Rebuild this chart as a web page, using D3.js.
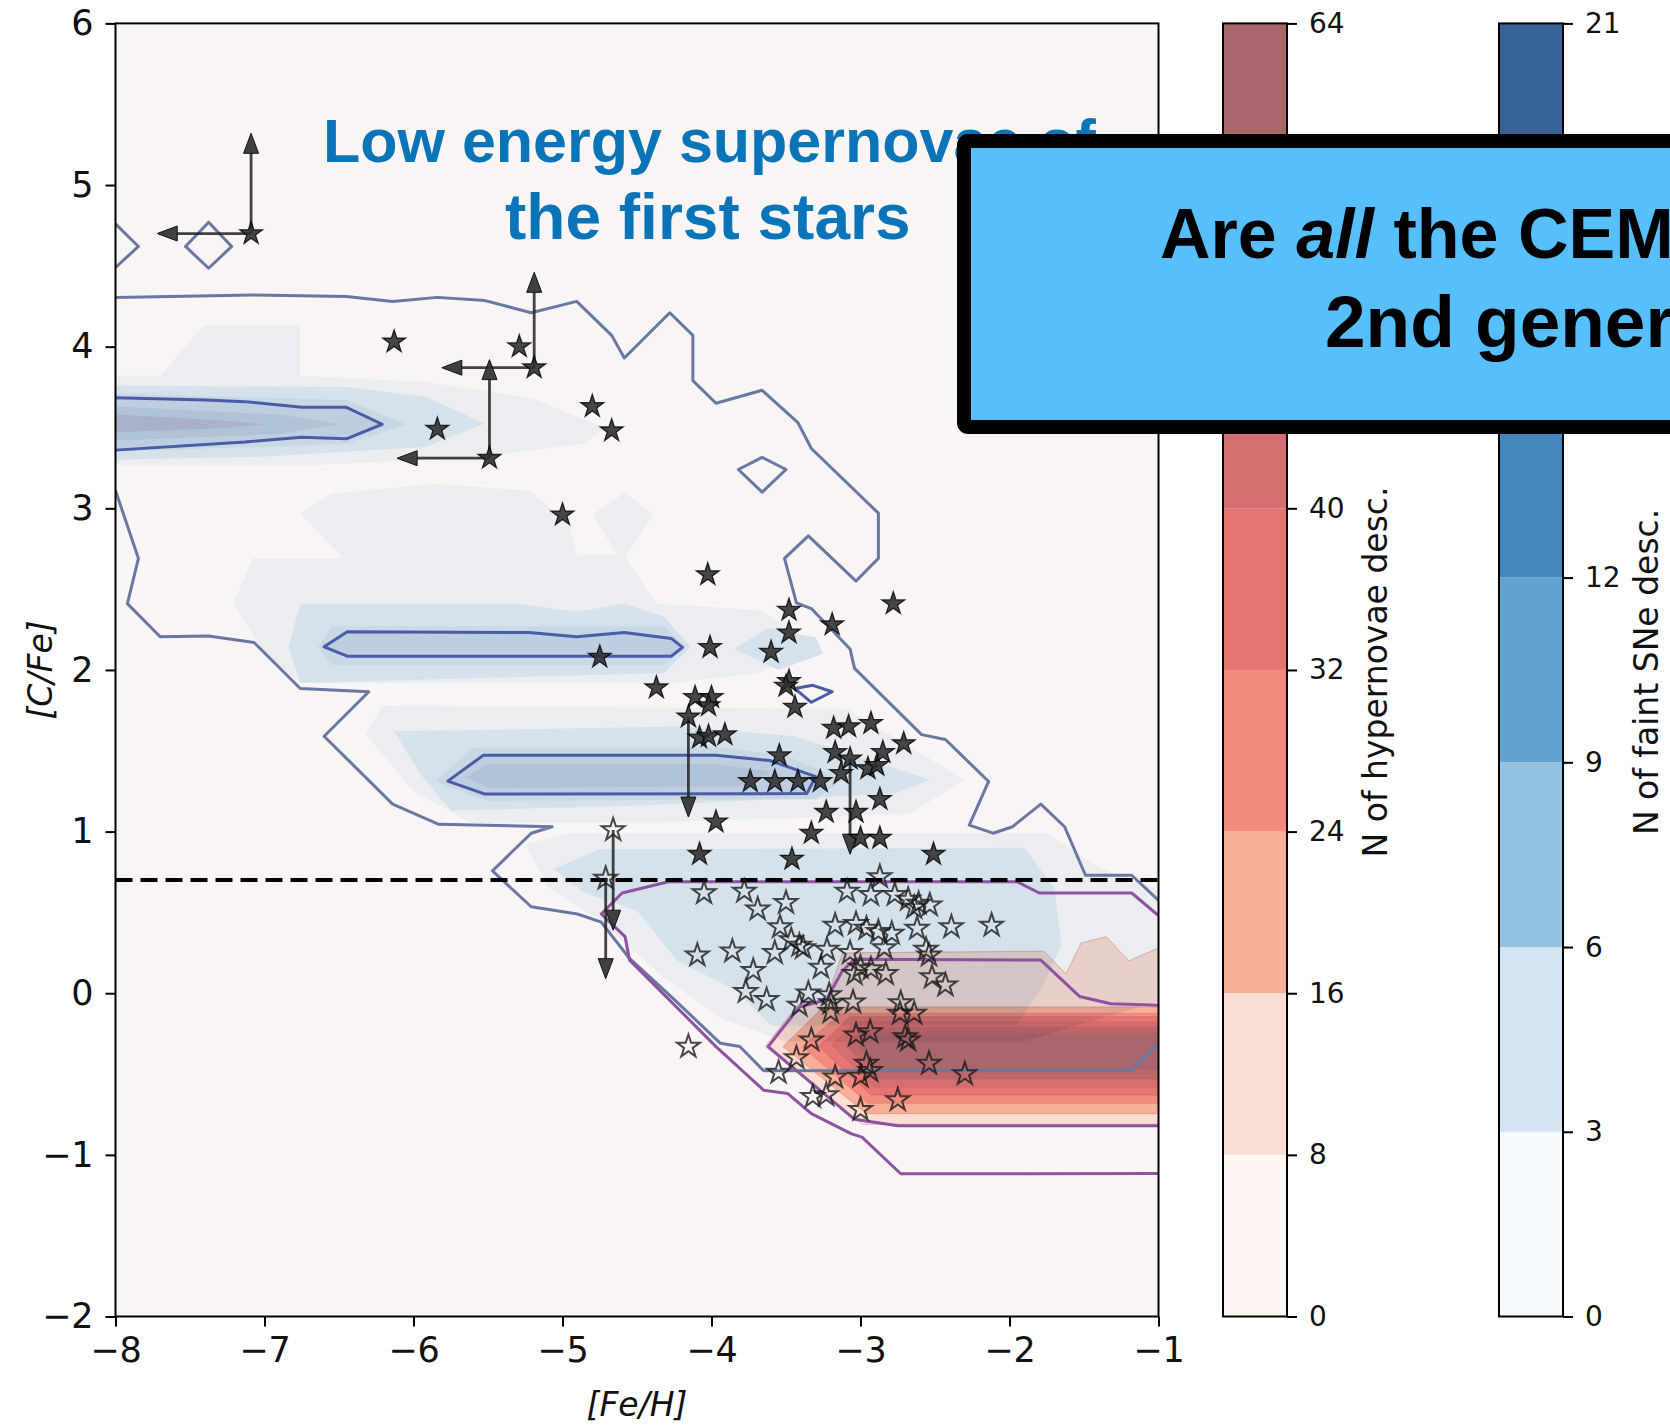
<!DOCTYPE html>
<html>
<head>
<meta charset="utf-8">
<script src="https://cdn.jsdelivr.net/npm/d3@7"></script>
<style>
  html, body { margin: 0; padding: 0; background: #fff; }
  svg { display: block; }
</style>
</head>
<body>
<svg id="chart" width="1670" height="1426"></svg>
<script>
// ---------------------------------------------------------------------------
// Axes and reference values
// ---------------------------------------------------------------------------
const feRange = [-8, -1];
const cRange = [-2, 6];
const xTickValues = [-8, -7, -6, -5, -4, -3, -2, -1];
const yTickValues = [-2, -1, 0, 1, 2, 3, 4, 5, 6];
const cempThreshold = 0.7;

// colour bar of hypernova descendants
const hyperLevels = [0, 8, 16, 24, 32, 40, 48, 56, 64];
const hyperColors = ["#fef6f2", "#fbdfd4", "#f9ae99", "#f48b80", "#e47571", "#d46f71", "#bd676c", "#a9666c"];
// colour bar of faint-SN descendants
const faintLevels = [0, 3, 6, 9, 12, 15, 18, 21];
const faintColors = ["#f6f9fe", "#d3e4f3", "#93c3e0", "#63a3d0", "#4686be", "#3b74ad", "#396395"];
// colour-bar levels whose labels sit under the question box
const hiddenHyperLabels = [48, 56];
const hiddenFaintLabels = [15, 18];

// shades of the faint-SN map in the panel, outer halo first
const faintShades = ["#ecedf1", "#d6e2eb", "#c8d8e5", "#bccee0", "#b0c2d8", "#a8b2cb"];

// faint-SN density map: [shade index, polygon in ([Fe/H], [C/Fe])]
const faintBands = [
  [0, [[-8,3.82],[-7.70,3.82],[-7.41,4.13],[-6.76,4.13],[-6.76,3.82],[-5.9,3.78],[-5.2,3.68],[-4.72,3.50],[-4.85,3.40],[-5.65,3.31],[-6.63,3.27],[-8,3.27]]],
  [0, [[-7.21,2.41],[-7.08,2.69],[-6.47,2.69],[-6.76,2.97],[-6.55,3.09],[-5.86,3.15],[-5.22,3.11],[-4.96,2.91],[-4.90,2.71],[-4.63,2.71],[-4.80,2.96],[-4.58,3.10],[-4.39,2.96],[-4.58,2.70],[-4.37,2.41],[-3.67,2.37],[-3.29,2.14],[-3.70,1.98],[-4.25,1.92],[-6.76,1.92],[-7.0,2.1]]],
  [0, [[-6.32,1.6],[-6.21,1.78],[-3.09,1.76],[-2.30,1.32],[-2.67,1.11],[-4.23,1.06],[-5.6,1.05],[-6.0,1.25]]],
  [0, [[-5.25,0.92],[-4.95,0.99],[-1.75,0.99],[-1.4,0.78],[-1.0,0.64],[-1.0,-0.05],[-1.55,-0.2],[-1.9,-0.3],[-3.5,-0.3],[-3.95,-0.15],[-4.35,0.12],[-4.75,0.45],[-5.1,0.66]]],
  [1, [[-8,3.76],[-6.45,3.75],[-5.92,3.69],[-5.52,3.525],[-5.92,3.38],[-6.98,3.32],[-8,3.30]]],
  [1, [[-6.84,2.14],[-6.76,2.41],[-5.30,2.41],[-4.905,2.36],[-4.585,2.41],[-4.32,2.33],[-4.14,2.14],[-4.32,1.98],[-6.76,1.92]]],
  [1, [[-3.85,2.13],[-3.62,2.26],[-3.3,2.2],[-3.25,2.1],[-3.55,2.0]]],
  [1, [[-6.13,1.62],[-4.23,1.65],[-3.44,1.59],[-2.53,1.32],[-2.77,1.235],[-4.5,1.16],[-5.75,1.13],[-5.95,1.35]]],
  [1, [[-5.06,0.77],[-4.75,0.89],[-1.9,0.90],[-1.7,0.65],[-1.65,0.3],[-1.77,0.06],[-1.95,-0.2],[-3.6,-0.2],[-3.84,0.02],[-4.23,0.2],[-4.5,0.51],[-4.85,0.62]]],
  [2, [[-8,3.71],[-6.45,3.67],[-6.05,3.52],[-6.45,3.40],[-8,3.35]]],
  [2, [[-6.64,2.14],[-6.55,2.27],[-4.32,2.27],[-4.17,2.14],[-4.32,2.03],[-6.55,2.03]]],
  [2, [[-5.85,1.31],[-5.6,1.52],[-3.95,1.52],[-3.5,1.47],[-3.12,1.32],[-3.3,1.20],[-5.5,1.19]]],
  [3, [[-8,3.684],[-7.39,3.67],[-7.13,3.66],[-6.75,3.625],[-6.45,3.625],[-6.21,3.52],[-6.45,3.43],[-6.75,3.44],[-7.13,3.41],[-8,3.36]]],
  [3, [[-6.60,2.143],[-6.445,2.236],[-5.225,2.232],[-4.905,2.205],[-4.585,2.232],[-4.27,2.195],[-4.195,2.14],[-4.27,2.085],[-6.445,2.085]]],
  [3, [[-5.77,1.312],[-5.53,1.473],[-3.97,1.473],[-3.61,1.44],[-3.30,1.34],[-3.36,1.235],[-5.52,1.232]]],
  [4, [[-8,3.63],[-6.9,3.58],[-6.5,3.52],[-6.9,3.46],[-8,3.42]]],
  [4, [[-5.5,1.42],[-4.0,1.42],[-3.6,1.37],[-3.75,1.28],[-5.5,1.27],[-5.65,1.34]]],
  [5, [[-8,3.58],[-7.3,3.545],[-7.0,3.52],[-7.3,3.495],[-8,3.47]]]
];

// hypernova density map: [colour index in hyperColors, polygon]
const hyperBands = [
  [1, [[-3.64,-0.33],[-3.42,-0.07],[-3.23,-0.04],[-3.12,0.25],[-1.77,0.26],[-1.62,0.12],[-1.52,0.31],[-1.35,0.35],[-1.2,0.2],[-1.0,0.28],[-1.0,-0.81],[-2.99,-0.81]]],
  [2, [[-3.52,-0.33],[-3.25,-0.085],[-1.0,-0.085],[-1.0,-0.745],[-2.96,-0.745]]],
  [3, [[-3.39,-0.33],[-3.13,-0.125],[-1.0,-0.125],[-1.0,-0.68],[-2.95,-0.68]]],
  [4, [[-3.28,-0.33],[-3.07,-0.145],[-1.0,-0.145],[-1.0,-0.63],[-2.93,-0.63]]],
  [5, [[-3.19,-0.32],[-3.03,-0.18],[-1.0,-0.18],[-1.0,-0.58],[-2.91,-0.58]]],
  [6, [[-3.09,-0.32],[-2.99,-0.21],[-1.0,-0.21],[-1.0,-0.53],[-2.90,-0.53]]],
  [7, [[-3.01,-0.33],[-2.96,-0.25],[-1.0,-0.25],[-1.0,-0.47],[-2.90,-0.47]]]
];

// iso-lines of the faint-SN map (outer level, open at the frame)
const faintOuterLines = [
  [[-8,4.305],[-7.08,4.32],[-6.45,4.31],[-6.14,4.28],[-5.84,4.305],[-5.52,4.285],[-5.21,4.21],[-4.905,4.28],[-4.67,4.07],[-4.585,3.93],[-4.28,4.21],[-4.125,4.07],[-4.125,3.79],[-3.97,3.65],[-3.66,3.73],[-3.42,3.53],[-3.33,3.37],[-2.88,2.97],[-2.88,2.69],[-3.03,2.55],[-3.35,2.83],[-3.51,2.69],[-3.43,2.415],[-3.33,2.38],[-3.07,2.13],[-3.04,2.01],[-2.59,1.60],[-2.43,1.57],[-2.14,1.31],[-2.27,1.04],[-2.11,0.99],[-1.98,1.03],[-1.79,1.17],[-1.63,1.03],[-1.49,0.73],[-1.18,0.73],[-1.0,0.575]],
  [[-1.0,-0.31],[-1.18,-0.477],[-3.65,-0.48],[-3.81,-0.33],[-3.94,-0.31],[-4.26,-0.03],[-4.55,0.215],[-4.74,0.44],[-4.90,0.49],[-5.21,0.535],[-5.47,0.757],[-5.21,0.99],[-5.07,1.03],[-5.83,1.045],[-6.14,1.17],[-6.60,1.59],[-6.30,1.865],[-6.76,1.885],[-7.07,2.17],[-7.375,2.21],[-7.70,2.205],[-7.92,2.41],[-7.846,2.69],[-8,3.11]],
  [[-8,4.76],[-7.846,4.62],[-8,4.49]]
];
const faintOuterLoops = [
  [[-7.375,4.77],[-7.22,4.62],[-7.375,4.485],[-7.53,4.62]],
  [[-3.66,3.315],[-3.50,3.24],[-3.66,3.10],[-3.82,3.24]]
];
// iso-lines of the faint-SN map (inner level)
const faintInnerLines = [
  [[-8,3.684],[-7.39,3.67],[-7.13,3.66],[-6.75,3.625],[-6.45,3.625],[-6.21,3.52],[-6.45,3.43],[-6.75,3.44],[-7.13,3.41],[-8,3.36]]
];
const faintInnerLoops = [
  [[-6.60,2.143],[-6.445,2.236],[-5.225,2.232],[-4.905,2.205],[-4.585,2.232],[-4.27,2.195],[-4.195,2.14],[-4.27,2.085],[-6.445,2.085]],
  [[-5.77,1.312],[-5.53,1.473],[-3.97,1.473],[-3.61,1.44],[-3.30,1.34],[-3.36,1.235],[-5.52,1.232]],
  [[-3.44,1.885],[-3.32,1.905],[-3.19,1.865],[-3.33,1.80]]
];
// iso-lines of the hypernova map
const hyperLines = [
  [[-1.0,-1.115],[-2.73,-1.117],[-2.99,-0.89],[-3.06,-0.87],[-3.33,-0.745],[-3.49,-0.62],[-3.65,-0.60],[-3.97,-0.33],[-4.55,0.205],[-4.58,0.35],[-4.74,0.49],[-4.60,0.62],[-4.29,0.69],[-1.95,0.69],[-1.80,0.62],[-1.18,0.62],[-1.0,0.48]],
  [[-1.0,-0.075],[-1.32,-0.065],[-1.53,-0.02],[-1.79,0.205],[-3.04,0.21],[-3.12,0.14],[-3.23,-0.04],[-3.41,-0.085],[-3.62,-0.33],[-3.04,-0.78],[-2.75,-0.82],[-1.0,-0.82]]
];

// observed stars ([Fe/H], [C/Fe]): CEMP stars (filled) and C-normal stars (open)
const cempStars = [
  [-7.09,4.70],[-6.13,4.03],[-5.29,4.00],[-5.19,3.87],[-5.84,3.49],[-5.49,3.31],[-4.80,3.63],[-4.67,3.48],[-5.00,2.96],[-4.025,2.59],
  [-2.78,2.41],[-3.48,2.37],[-3.19,2.28],[-3.48,2.23],[-3.60,2.11],[-4.01,2.14],[-4.75,2.08],
  [-4.37,1.89],[-3.48,1.93],[-3.50,1.90],[-3.44,1.77],[-4.11,1.83],[-4.00,1.83],[-4.02,1.78],[-4.155,1.71],
  [-4.08,1.58],[-4.02,1.59],[-3.91,1.60],[-3.545,1.47],[-3.74,1.31],[-3.575,1.31],[-3.42,1.31],[-3.27,1.31],
  [-3.13,1.36],[-3.17,1.49],[-3.18,1.64],[-3.08,1.65],[-2.93,1.67],[-3.07,1.45],[-2.95,1.39],[-2.89,1.41],[-2.85,1.49],[-2.71,1.545],
  [-2.87,1.20],[-3.23,1.12],[-3.03,1.12],[-3.33,0.99],[-3.00,0.96],[-2.87,0.96],[-3.97,1.06],[-4.08,0.86],[-3.46,0.83],[-2.51,0.86]
];
const normalStars = [
  [-4.66,1.01],[-4.71,0.71],
  [-4.05,0.62],[-3.78,0.63],[-3.69,0.52],[-3.50,0.56],[-3.09,0.63],[-2.93,0.61],[-2.87,0.72],
  [-2.77,0.61],[-2.68,0.58],[-2.61,0.555],[-2.535,0.545],[-2.64,0.53],
  [-3.54,0.41],[-3.465,0.33],[-3.41,0.295],[-3.385,0.28],
  [-3.17,0.42],[-3.03,0.43],[-2.96,0.40],[-2.88,0.38],[-2.79,0.37],[-2.62,0.40],[-2.39,0.41],[-2.12,0.42],
  [-4.095,0.235],[-3.86,0.26],[-3.575,0.25],[-3.225,0.27],[-3.07,0.25],[-2.84,0.28],[-2.56,0.27],[-2.54,0.235],
  [-3.72,0.14],[-3.265,0.16],[-3.04,0.12],[-3.0,0.16],[-2.93,0.15],[-2.83,0.12],[-2.52,0.10],[-2.43,0.05],
  [-3.77,0.01],[-3.63,-0.04],[-3.41,-0.075],[-3.35,0.0],[-3.21,-0.01],[-3.20,-0.06],[-3.05,-0.055],[-2.73,-0.06],
  [-3.20,-0.115],[-2.735,-0.125],[-2.64,-0.125],
  [-4.155,-0.33],[-3.33,-0.29],[-3.03,-0.26],[-2.935,-0.24],[-2.70,-0.27],[-2.68,-0.29],
  [-3.43,-0.40],[-2.96,-0.435],[-2.935,-0.48],[-3.0,-0.515],[-2.54,-0.435],[-3.55,-0.49],[-3.17,-0.52],[-2.30,-0.50],
  [-3.32,-0.64],[-3.23,-0.63],[-2.75,-0.66],[-3.0,-0.72]
];

// limits: [start, end] of each arrow in data units
const limitArrows = [
  [[-7.09,4.70],[-7.09,5.32]], [[-7.09,4.70],[-7.72,4.70]],
  [[-5.19,3.87],[-5.19,4.46]], [[-5.19,3.87],[-5.81,3.87]],
  [[-5.49,3.31],[-5.49,3.92]], [[-5.49,3.31],[-6.11,3.31]],
  [[-4.155,1.71],[-4.155,1.09]],
  [[-3.07,1.45],[-3.07,0.86]],
  [[-4.66,1.01],[-4.66,0.39]],
  [[-4.71,0.71],[-4.71,0.09]]
];

// ---------------------------------------------------------------------------
// Drawing
// ---------------------------------------------------------------------------
const svg = d3.select("#chart");
const plot = { left: 115.5, right: 1158.5, top: 23.4, bottom: 1316.5 };
const x = d3.scaleLinear().domain(feRange).range([plot.left, plot.right]);
const y = d3.scaleLinear().domain(cRange).range([plot.bottom, plot.top]);

const openLine = d3.line().x(d => x(d[0])).y(d => y(d[1]));
const closedLine = d3.line().x(d => x(d[0])).y(d => y(d[1])).curve(d3.curveLinearClosed);

svg.append("defs").append("clipPath").attr("id", "plotClip")
  .append("rect")
  .attr("x", plot.left).attr("y", plot.top)
  .attr("width", plot.right - plot.left).attr("height", plot.bottom - plot.top);

// panel background
svg.append("rect")
  .attr("x", plot.left).attr("y", plot.top)
  .attr("width", plot.right - plot.left).attr("height", plot.bottom - plot.top)
  .attr("fill", "#faf5f5");

const panel = svg.append("g").attr("clip-path", "url(#plotClip)");

// faint-SN map
panel.append("g").selectAll("path").data(faintBands).join("path")
  .attr("d", d => closedLine(d[1]))
  .attr("fill", d => faintShades[d[0]]);

// hypernova map, multiplied onto the blue map
const hyperG = panel.append("g").style("mix-blend-mode", "multiply");
hyperG.selectAll("path").data(hyperBands).join("path")
  .attr("d", d => closedLine(d[1]))
  .attr("fill", d => hyperColors[d[0]])
  .attr("stroke", "#c9504e").attr("stroke-opacity", 0.35).attr("stroke-width", 1);

// iso-lines
const lineG = panel.append("g").attr("fill", "none").attr("stroke-linejoin", "round");
lineG.selectAll(".fo").data(faintOuterLines).join("path").attr("class", "fo")
  .attr("d", openLine).attr("stroke", "#6878a2").attr("stroke-width", 3);
lineG.selectAll(".fol").data(faintOuterLoops).join("path").attr("class", "fol")
  .attr("d", closedLine).attr("stroke", "#6878a2").attr("stroke-width", 3);
lineG.selectAll(".hl").data(hyperLines).join("path").attr("class", "hl")
  .attr("d", openLine).attr("stroke", "#8d52a0").attr("stroke-width", 3);
lineG.selectAll(".fi").data(faintInnerLines).join("path").attr("class", "fi")
  .attr("d", openLine).attr("stroke", "#4b5ba8").attr("stroke-width", 3);
lineG.selectAll(".fil").data(faintInnerLoops).join("path").attr("class", "fil")
  .attr("d", closedLine).attr("stroke", "#4b5ba8").attr("stroke-width", 3);

// CEMP threshold
panel.append("line")
  .attr("x1", x(feRange[0])).attr("x2", x(feRange[1]))
  .attr("y1", y(cempThreshold)).attr("y2", y(cempThreshold))
  .attr("stroke", "#000").attr("stroke-width", 4).attr("stroke-dasharray", "17 8");

// limit arrows
const arrowG = panel.append("g");
limitArrows.forEach(([a, b]) => {
  const x0 = x(a[0]), y0 = y(a[1]), x1 = x(b[0]), y1 = y(b[1]);
  const len = Math.hypot(x1 - x0, y1 - y0);
  const ux = (x1 - x0) / len, uy = (y1 - y0) / len;
  const hl = 20, hw = 7.5;
  const bx = x1 - ux * hl, by = y1 - uy * hl;
  arrowG.append("line").attr("x1", x0).attr("y1", y0).attr("x2", bx).attr("y2", by)
    .attr("stroke", "#222").attr("stroke-opacity", 0.85).attr("stroke-width", 2.8);
  arrowG.append("path")
    .attr("d", `M${x1},${y1}L${bx - uy * hw},${by + ux * hw}L${bx + uy * hw},${by - ux * hw}Z`)
    .attr("fill", "#2c2c2c").attr("fill-opacity", 0.9)
    .attr("stroke", "#111").attr("stroke-width", 1);
});

// star markers
function starPath(R) {
  const r = R * 0.381966, pts = [];
  for (let i = 0; i < 10; i++) {
    const a = -Math.PI / 2 + i * Math.PI / 5, rr = i % 2 ? r : R;
    pts.push([rr * Math.cos(a), rr * Math.sin(a)]);
  }
  return "M" + pts.map(p => p[0].toFixed(2) + "," + p[1].toFixed(2)).join("L") + "Z";
}
const star = starPath(12);
panel.append("g").selectAll("path").data(normalStars).join("path")
  .attr("d", star)
  .attr("transform", d => `translate(${x(d[0])},${y(d[1])})`)
  .attr("fill", "none").attr("stroke", "#1a1a1a").attr("stroke-opacity", 0.8).attr("stroke-width", 2);
panel.append("g").selectAll("path").data(cempStars).join("path")
  .attr("d", star)
  .attr("transform", d => `translate(${x(d[0])},${y(d[1])})`)
  .attr("fill", "#2e2e2e").attr("fill-opacity", 0.88)
  .attr("stroke", "#000").attr("stroke-opacity", 0.8).attr("stroke-width", 1.3);

// frame and axes
svg.append("rect")
  .attr("x", plot.left).attr("y", plot.top)
  .attr("width", plot.right - plot.left).attr("height", plot.bottom - plot.top)
  .attr("fill", "none").attr("stroke", "#000").attr("stroke-width", 2);

const tickFont = "'DejaVu Sans', sans-serif";
function styleAxis(g, size) {
  g.select(".domain").remove();
  g.selectAll(".tick line").attr("stroke", "#000").attr("stroke-width", 2);
  g.selectAll(".tick text").attr("fill", "#111")
    .style("font-family", tickFont).style("font-size", size + "px");
}
svg.append("g").attr("transform", `translate(0,${plot.bottom})`)
  .call(d3.axisBottom(x).tickValues(xTickValues).tickSize(10).tickPadding(11).tickFormat(d3.format("d")))
  .call(g => styleAxis(g, 35));
svg.append("g").attr("transform", `translate(${plot.left},0)`)
  .call(d3.axisLeft(y).tickValues(yTickValues).tickSize(10).tickPadding(12).tickFormat(d3.format("d")))
  .call(g => styleAxis(g, 35));

svg.append("text")
  .attr("x", (plot.left + plot.right) / 2).attr("y", 1416)
  .attr("text-anchor", "middle")
  .style("font-family", tickFont).style("font-size", "33px").style("font-style", "italic")
  .attr("fill", "#111").text("[Fe/H]");
svg.append("text")
  .attr("transform", `translate(52,${(plot.top + plot.bottom) / 2}) rotate(-90)`)
  .attr("text-anchor", "middle")
  .style("font-family", tickFont).style("font-size", "33px").style("font-style", "italic")
  .attr("fill", "#111").text("[C/Fe]");

// colour bars
function colorBar(left, width, levels, colors, hidden, label, labelX) {
  const s = d3.scaleLinear().domain([levels[0], levels[levels.length - 1]]).range([plot.bottom, plot.top]);
  const g = svg.append("g");
  g.selectAll("rect").data(colors).join("rect")
    .attr("x", left).attr("width", width)
    .attr("y", (c, i) => s(levels[i + 1]))
    .attr("height", (c, i) => s(levels[i]) - s(levels[i + 1]))
    .attr("fill", c => c);
  g.append("rect").attr("x", left).attr("y", plot.top)
    .attr("width", width).attr("height", plot.bottom - plot.top)
    .attr("fill", "none").attr("stroke", "#000").attr("stroke-width", 2);
  svg.append("g").attr("transform", `translate(${left + width},0)`)
    .call(d3.axisRight(s).tickValues(levels).tickSize(10).tickPadding(12)
      .tickFormat(v => hidden.includes(v) ? "" : d3.format("d")(v)))
    .call(a => styleAxis(a, 28));
  svg.append("text")
    .attr("transform", `translate(${labelX},${(plot.top + plot.bottom) / 2 + 2}) rotate(-90)`)
    .attr("text-anchor", "middle")
    .style("font-family", tickFont).style("font-size", "33px")
    .attr("fill", "#111").text(label);
}
colorBar(1223, 64, hyperLevels, hyperColors, hiddenHyperLabels, "N of hypernovae desc.", 1387);
colorBar(1499, 64, faintLevels, faintColors, hiddenFaintLabels, "N of faint SNe desc.", 1658);

// headline inside the panel
const headFont = "'Liberation Sans', Arial, Helvetica, sans-serif";
svg.append("text").attr("x", 323).attr("y", 162)
  .style("font-family", headFont).style("font-size", "61px").style("font-weight", "bold")
  .attr("fill", "#0a74b8").text("Low energy supernovae of");
svg.append("text").attr("x", 505).attr("y", 239)
  .style("font-family", headFont).style("font-size", "64px").style("font-weight", "bold")
  .attr("fill", "#0a74b8").text("the first stars");

// question box
svg.append("rect")
  .attr("x", 964).attr("y", 141).attr("width", 780).attr("height", 286)
  .attr("rx", 4)
  .attr("fill", "#56bffc").attr("stroke", "#000").attr("stroke-width", 14)
  .attr("stroke-linejoin", "round");
const q1 = svg.append("text").attr("x", 1160).attr("y", 258)
  .style("font-family", headFont).style("font-size", "70px").style("font-weight", "bold")
  .attr("fill", "#000");
q1.append("tspan").text("Are ");
q1.append("tspan").style("font-style", "italic").text("all");
q1.append("tspan").text(" the CEMP-no stars");
svg.append("text").attr("x", 1325).attr("y", 347)
  .style("font-family", headFont).style("font-size", "73px").style("font-weight", "bold")
  .attr("fill", "#000").text("2nd generation stars?");
</script>
</body>
</html>
